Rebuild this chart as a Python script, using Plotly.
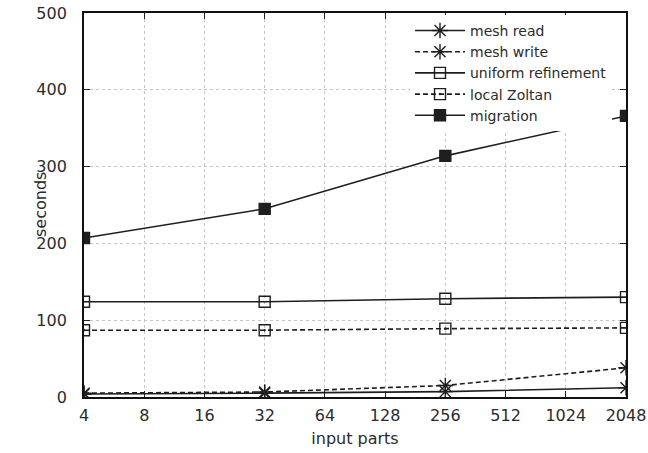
import plotly.graph_objects as go

parts = [4, 32, 256, 2048]
mesh_read = [4, 5, 7, 12]
mesh_write = [5, 6.5, 15, 38]
uniform_refinement = [124, 124, 128, 130]
local_zoltan = [87, 87, 89, 90]
migration = [207, 245, 314, 366]
x_ticks = [4, 8, 16, 32, 64, 128, 256, 512, 1024, 2048]
y_ticks = [0, 100, 200, 300, 400, 500]

col = "#1e1e1e"
txt = "#2b2b2b"
DASH = "5px,3px"
series = [
    ("mesh read", mesh_read, "solid", "asterisk-open", 13),
    ("mesh write", mesh_write, DASH, "asterisk-open", 13),
    ("uniform refinement", uniform_refinement, "solid", "square-open", 11),
    ("local Zoltan", local_zoltan, DASH, "square-open-dot", 11),
    ("migration", migration, "solid", "square", 11),
]

fig = go.Figure()
for name, vals, dash, sym, sz in series:
    fig.add_trace(go.Scatter(
        x=parts, y=vals, name=name, mode="lines+markers",
        line=dict(color=col, width=1.6, dash=dash),
        marker=dict(symbol=sym, size=sz, color=col,
                    line=dict(color=col, width=1.4)),
    ))

axis_common = dict(
    showline=True, linecolor="#111", linewidth=1.8, mirror="ticks",
    ticks="inside", ticklen=6, tickcolor="#222", tickwidth=1.2,
    showgrid=True, gridcolor="#c4c4c4", griddash="dot", gridwidth=1,
    zeroline=False, tickfont=dict(size=16, color=txt), automargin=False,
)

W, H = 648, 453
L, R, T, B = 84, 22, 13, 56
pw, ph = W - L - R, H - T - B

fig.update_layout(
    width=W, height=H,
    margin=dict(l=L, r=R, t=T, b=B),
    paper_bgcolor="white", plot_bgcolor="white",
    font=dict(family="DejaVu Sans", size=16, color=txt),
    xaxis=dict(type="log", range=[0.60206, 3.31133],
               tickvals=x_ticks, ticktext=[str(v) for v in x_ticks],
               ticklabelstandoff=3,
               title=dict(text="input parts", font=dict(size=16, color=txt), standoff=9),
               **axis_common),
    yaxis=dict(range=[0, 500], tickvals=y_ticks, ticklabelstandoff=12,
               **axis_common),
    legend=dict(x=(612 - L) / pw, y=0.995, xanchor="right", yanchor="top",
                bgcolor="white", borderwidth=0,
                font=dict(size=14, color=txt), tracegroupgap=0, itemwidth=50,
                traceorder="normal"),
    annotations=[dict(text="seconds", textangle=-90, xref="paper", yref="paper",
                      x=(40 - L) / pw, y=(H - B - 205) / ph,
                      xanchor="center", yanchor="middle",
                      showarrow=False, font=dict(size=16, color=txt))],
)

fig.write_html("out.html", config={"displayModeBar": False},
               post_script="document.body.style.margin='0';document.body.style.padding='0';")
